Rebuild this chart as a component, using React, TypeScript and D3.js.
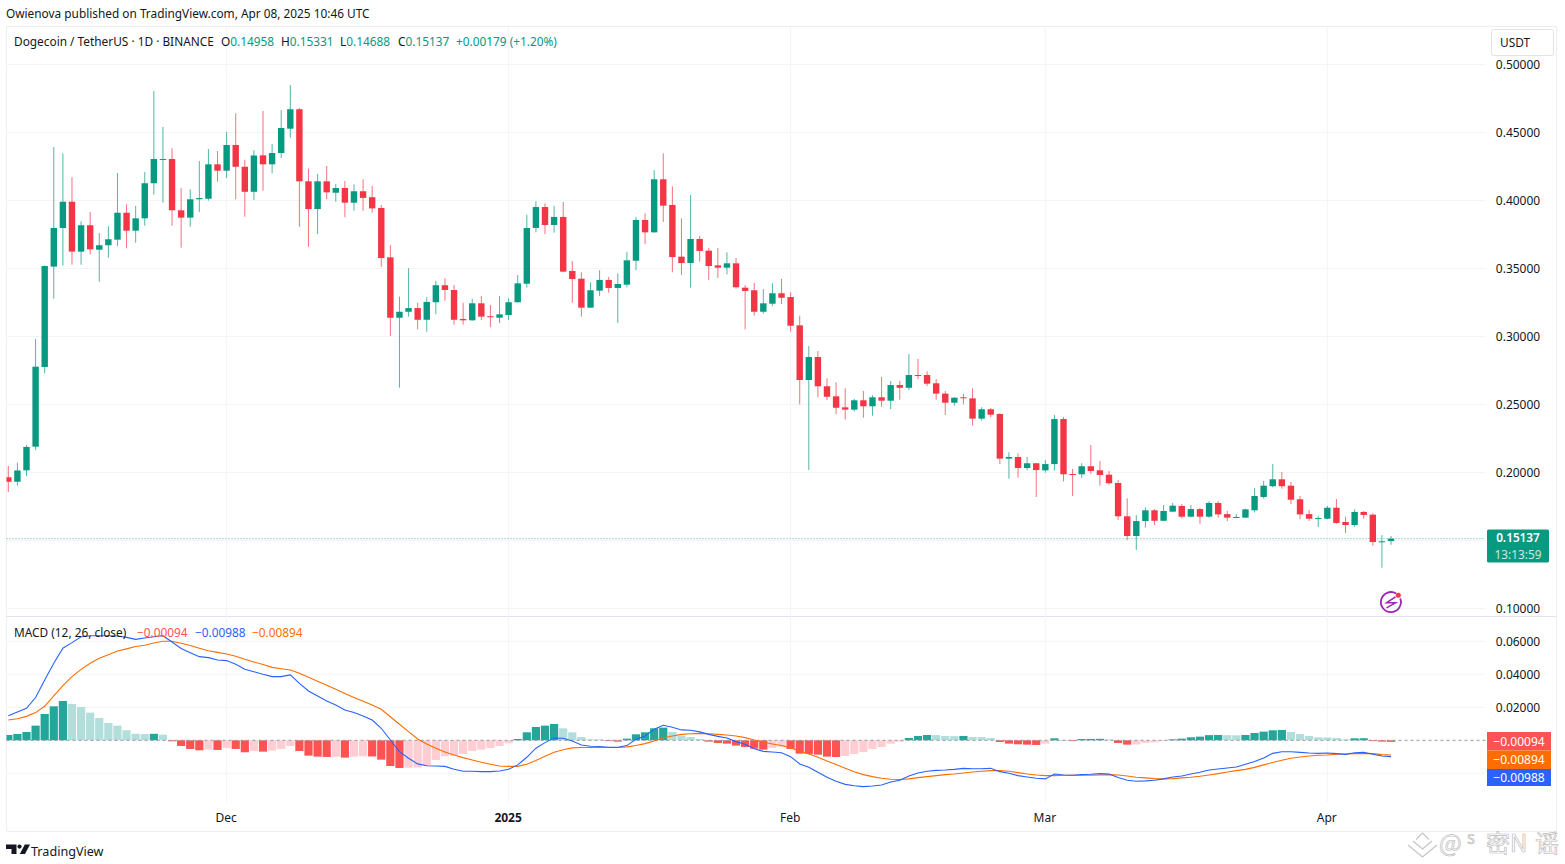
import * as d3 from "d3";

const width = 1565;
const height = 864;

// daily candles, 7 Nov 2024 .. 8 Apr 2025
const startDate = new Date(Date.UTC(2024, 10, 7));

const opens = [
  .1965,.1932,.2016,.2190,.2776,.3514,.3798,.3991,.3624,.3818,
  .3638,.3671,.3712,.3910,.3778,.3869,.4127,.4300,.4305,.3928,
  .3874,.4009,.4013,.4266,.4219,.4408,.4248,.4064,.4332,.4266,
  .4349,.4528,.4671,.4141,.3937,.4141,.4057,.4092,.3984,.4068,
  .4024,.3945,.3582,.3138,.3182,.3209,.3123,.3252,.3377,.3342,
  .3129,.3119,.3244,.3149,.3138,.3158,.3252,.3388,.3798,.3952,
  .3820,.3879,.3482,.3425,.3212,.3337,.3416,.3357,.3381,.3557,
  .3857,.3766,.4156,.3967,.3587,.3540,.3717,.3631,.3523,.3506,
  .3538,.3359,.3340,.3182,.3241,.3318,.3290,.3082,.2680,.2849,
  .2634,.2560,.2479,.2462,.2531,.2487,.2553,.2528,.2643,.2623,
  .2717,.2717,.2656,.2580,.2513,.2553,.2545,.2396,.2465,.2430,
  .2102,.2114,.2033,.2068,.2016,.2062,.2393,.1989,.1987,.2046,
  .2016,.1984,.1923,.1678,.1533,.1643,.1722,.1645,.1712,.1754,
  .1675,.1731,.1675,.1776,.1694,.1668,.1668,.1722,.1820,.1899,
  .1950,.1903,.1803,.1694,.1660,.1660,.1741,.1636,.1614,.1710,
  .1690,.1489,.14958,
];
const highs = [
  .2048,.2072,.2202,.2982,.3522,.4393,.4347,.4171,.3847,.3915,
  .3761,.3812,.4202,.3972,.3960,.4209,.4805,.4541,.4384,.4092,
  .4082,.4290,.4379,.4364,.4503,.4641,.4300,.4371,.4658,.4416,
  .4665,.4849,.4680,.4234,.4195,.4254,.4121,.4143,.4119,.4156,
  .4107,.3967,.3673,.3293,.3502,.3248,.3289,.3408,.3428,.3379,
  .3248,.3278,.3298,.3232,.3298,.3281,.3452,.3895,.3994,.3979,
  .3960,.3989,.3555,.3472,.3399,.3487,.3438,.3464,.3621,.3879,
  .3906,.4224,.4347,.4104,.3869,.4041,.3739,.3651,.3651,.3619,
  .3577,.3377,.3393,.3349,.3391,.3423,.3327,.3153,.2930,.2893,
  .2693,.2663,.2619,.2541,.2601,.2568,.2702,.2673,.2673,.2871,
  .2835,.2744,.2687,.2599,.2553,.2577,.2619,.2480,.2474,.2437,
  .2149,.2141,.2114,.2070,.2092,.2423,.2408,.2026,.2068,.2202,
  .2085,.2011,.1945,.1810,.1687,.1744,.1731,.1761,.1776,.1768,
  .1761,.1739,.1790,.1790,.1717,.1695,.1734,.1886,.1938,.2062,
  .2004,.1930,.1827,.1724,.1680,.1754,.1805,.1675,.1729,.1717,
  .1700,.1540,.15331,
];
const lows = [
  .1857,.1903,.1976,.2165,.2729,.3278,.3521,.3528,.3528,.3604,
  .3403,.3579,.3665,.3649,.3690,.3815,.4043,.3984,.3815,.3653,
  .3807,.3915,.3999,.4138,.4165,.4009,.3881,.4004,.4072,.4200,
  .4312,.4462,.3807,.3660,.3753,.4011,.3991,.3877,.3925,.3925,
  .3910,.3513,.3004,.2624,.3146,.3053,.3035,.3165,.3263,.3087,
  .3087,.3116,.3121,.3068,.3099,.3121,.3250,.3359,.3766,.3753,
  .3763,.3472,.3248,.3146,.3212,.3298,.3322,.3099,.3362,.3487,
  .3680,.3763,.3842,.3472,.3452,.3359,.3550,.3416,.3430,.3457,
  .3352,.3053,.3153,.3168,.3224,.3239,.3035,.2501,.2018,.2553,
  .2533,.2430,.2389,.2447,.2403,.2418,.2484,.2467,.2535,.2607,
  .2685,.2636,.2535,.2423,.2491,.2501,.2344,.2381,.2406,.2062,
  .1955,.1962,.2016,.1820,.1998,.2016,.1935,.1827,.1960,.1991,
  .1903,.1911,.1651,.1503,.1430,.1594,.1614,.1645,.1712,.1663,
  .1670,.1623,.1668,.1668,.1643,.1665,.1668,.1707,.1808,.1891,
  .1881,.1769,.1656,.1643,.1599,.1656,.1623,.1555,.1601,.1660,
  .1462,.1300,.14688,
];
const closes = [
  .1932,.2015,.2188,.2778,.3518,.3798,.3991,.3624,.3818,.3641,
  .3671,.3715,.3910,.3778,.3869,.4127,.4305,.4305,.3928,.3874,
  .4009,.4018,.4266,.4219,.4408,.4248,.4064,.4331,.4266,.4349,
  .4533,.4671,.4141,.3937,.4141,.4060,.4092,.3984,.4068,.4019,
  .3942,.3577,.3138,.3182,.3209,.3123,.3254,.3377,.3342,.3123,
  .3119,.3244,.3146,.3144,.3163,.3252,.3391,.3798,.3952,.3820,
  .3879,.3477,.3423,.3212,.3340,.3416,.3357,.3386,.3560,.3857,
  .3766,.4156,.3962,.3584,.3540,.3717,.3629,.3518,.3506,.3538,
  .3362,.3335,.3182,.3244,.3318,.3285,.3079,.2680,.2849,.2634,
  .2557,.2476,.2462,.2531,.2487,.2553,.2528,.2643,.2623,.2717,
  .2712,.2653,.2580,.2513,.2550,.2548,.2396,.2465,.2425,.2102,
  .2114,.2033,.2068,.2018,.2062,.2393,.1987,.1984,.2046,.2011,
  .1982,.1921,.1678,.1533,.1643,.1722,.1645,.1717,.1756,.1675,
  .1731,.1675,.1776,.1692,.1668,.1673,.1729,.1827,.1903,.1950,
  .1899,.1800,.1692,.1660,.1665,.1741,.1629,.1614,.1710,.1688,
  .1489,.1494,.15137,
];

const histogram = [
  .00323,.00384,.00505,.00889,.01596,.02061,.02384,.02202,.0202,.01677,
  .01354,.0105,.00889,.00606,.00394,.00374,.00394,.00343,-.00061,-.00343,
  -.00525,-.00606,-.00566,-.00586,-.00465,-.00525,-.00727,-.00646,-.00687,-.00626,
  -.00525,-.00343,-.00646,-.00929,-.0099,-.0101,-.01,-.0105,-.0099,-.0097,
  -.0098,-.01172,-.01556,-.01677,-.01657,-.01646,-.01515,-.01192,-.0097,-.00929,
  -.00828,-.00646,-.00566,-.00465,-.00343,-.00182,.00081,.00485,.00808,.00889,
  .0099,.00727,.00485,.00202,.00061,.00051,-.0004,-.00081,.00101,.00364,
  .00485,.00727,.00768,.00505,.00283,.00202,.00081,-.00081,-.00162,-.00202,
  -.00323,-.00404,-.00505,-.00566,-.00465,-.00384,-.00525,-.00808,-.00828,-.00869,
  -.0099,-.0101,-.00949,-.00828,-.00707,-.00525,-.00404,-.00202,-.00081,.00141,
  .00263,.00323,.00313,.00263,.00253,.00263,.00202,.00192,.00141,-.00101,
  -.00202,-.00242,-.00263,-.00283,-.00202,.00121,.0002,-.0002,.00081,.00085,
  .00089,.00061,-.00162,-.00263,-.00253,-.00162,-.00121,-.0004,.00061,.00101,
  .00182,.00222,.00313,.00323,.00313,.00303,.00323,.00444,.00525,.00606,
  .00626,.00505,.00384,.00263,.00182,.00172,.00141,.00061,.00121,.00125,
  -.0002,-.00081,-.00094,
];
const macdLine = [
  .0149,.0172,.0194,.0259,.0366,.0467,.0558,.0592,.0628,.0634,
  .0634,.0634,.0632,.0624,.0612,.0620,.0628,.0634,.0596,.0556,
  .0531,.0507,.0501,.0487,.0483,.0461,.0430,.0416,.0400,.0386,
  .0386,.0396,.0345,.0299,.0269,.0238,.0214,.0184,.0168,.0147,
  .0123,.0073,.0002,-.0069,-.0109,-.0143,-.0154,-.0156,-.0158,-.0176,
  -.0188,-.0188,-.0190,-.0190,-.0186,-.0176,-.0149,-.0103,-.0048,-.0014,
  .0014,.0012,-.0004,-.0028,-.0036,-.0038,-.0042,-.0042,-.0032,.0006,
  .0026,.0067,.0091,.0079,.0063,.0061,.0051,.0036,.0024,.0014,
  -.0008,-.0024,-.0051,-.0067,-.0071,-.0075,-.0099,-.0143,-.0164,-.0194,
  -.0224,-.0248,-.0267,-.0275,-.0281,-.0277,-.0271,-.0253,-.0242,-.0216,
  -.0198,-.0188,-.0182,-.0180,-.0176,-.0170,-.0172,-.0172,-.0170,-.0190,
  -.0200,-.0214,-.0222,-.0230,-.0234,-.0204,-.0210,-.0212,-.0208,-.0206,
  -.0202,-.0204,-.0226,-.0242,-.0248,-.0246,-.0242,-.0234,-.0222,-.0216,
  -.0204,-.0194,-.0180,-.0174,-.0168,-.0162,-.0145,-.0129,-.0107,-.0079,
  -.0069,-.0069,-.0073,-.0077,-.0079,-.0077,-.0081,-.0085,-.0075,-.0073,
  -.0085,-.0095,-.00988,
];
const signalLine = [
  .0123,.0131,.0145,.0168,.0206,.0269,.0331,.0386,.0430,.0467,
  .0497,.0519,.0541,.0554,.0568,.0576,.0590,.0600,.0600,.0588,
  .0574,.0558,.0543,.0533,.0523,.0509,.0491,.0475,.0459,.0442,
  .0434,.0426,.0406,.0382,.0358,.0333,.0309,.0283,.0259,.0236,
  .0214,.0188,.0143,.0097,.0053,.0008,-.0022,-.0048,-.0071,-.0089,
  -.0105,-.0119,-.0133,-.0145,-.0156,-.0158,-.0158,-.0145,-.0123,-.0097,
  -.0073,-.0057,-.0046,-.0044,-.0044,-.0044,-.0044,-.0044,-.0040,-.0032,
  -.0020,-.0004,.0016,.0026,.0036,.0040,.0042,.0040,.0036,.0032,
  .0026,.0016,.0002,-.0012,-.0022,-.0032,-.0046,-.0065,-.0083,-.0103,
  -.0125,-.0147,-.0170,-.0190,-.0208,-.0220,-.0230,-.0236,-.0238,-.0234,
  -.0226,-.0220,-.0214,-.0208,-.0204,-.0198,-.0192,-.0188,-.0184,-.0184,
  -.0188,-.0196,-.0204,-.0210,-.0214,-.0214,-.0212,-.0212,-.0212,-.0212,
  -.0210,-.0208,-.0210,-.0216,-.0224,-.0228,-.0232,-.0234,-.0232,-.0228,
  -.0224,-.0218,-.0210,-.0202,-.0192,-.0184,-.0176,-.0164,-.0149,-.0135,
  -.0121,-.0109,-.0101,-.0095,-.0091,-.0089,-.0085,-.0083,-.0081,-.0079,
  -.0081,-.0087,-.00894,
];

const priceTicks = [0.5, 0.45, 0.4, 0.35, 0.3, 0.25, 0.2, 0.15, 0.1];
const macdTicks = [0.06, 0.04, 0.02, 0, -0.02];
const timeTicks = [
  {label: "Dec", date: new Date(Date.UTC(2024, 11, 1)), bold: false},
  {label: "2025", date: new Date(Date.UTC(2025, 0, 1)), bold: true},
  {label: "Feb", date: new Date(Date.UTC(2025, 1, 1)), bold: false},
  {label: "Mar", date: new Date(Date.UTC(2025, 2, 1)), bold: false},
  {label: "Apr", date: new Date(Date.UTC(2025, 3, 1)), bold: false},
];

const GREEN = "#089981";
const RED = "#F23645";
const FONT = "'Noto Sans', sans-serif";
const TEXT = "#131722";

const plotLeft = 6.5;
const plotRight = 1485;

// 価格とMACDのスケール
const x = d3.scaleUtc()
  .domain([startDate, d3.utcDay.offset(startDate, 152)])
  .range([8.3, 1391]);
const y = d3.scaleLinear().domain([0.1, 0.5]).range([608.5, 64.5]);
const yMacd = d3.scaleLinear().domain([-0.02, 0.06]).range([773.3, 641.3]);

const xAt = (i: number) => x(d3.utcDay.offset(startDate, i));
const fmt = d3.format(".5f");

const macdPath = d3.line<number>().x((_, i) => xAt(i)).y(d => yMacd(d));

const histColor = (v: number, i: number) => {
  const prev = i > 0 ? histogram[i - 1] : 0;
  if (v >= 0) return v >= prev ? "#26A69A" : "#B2DFDB";
  return v <= prev ? "#FF5252" : "#FFCDD2";
};

const legendOhlc = [
  {text: "O", value: "0.14958", left: 221},
  {text: "H", value: "0.15331", left: 281},
  {text: "L", value: "0.14688", left: 340},
  {text: "C", value: "0.15137", left: 398},
];

const App = () => {
  const last = opens.length - 1;
  const lastY = y(closes[last]);
  return (
    <svg width={width} height={height} fontFamily={FONT}
         style={{position: "absolute", left: 0, top: 0, background: "#fff"}}>
      <defs>
        <clipPath id="plot">
          <rect x={plotLeft} y={27} width={plotRight - plotLeft} height={775}/>
        </clipPath>
      </defs>

      {/* 枠 */}
      <g stroke="#eceef1" fill="none">
        <path d="M6.5,26.5H1556.5"/>
        <path d="M6.5,26.5V831.5"/>
        <path d="M1556.5,26.5V831.5"/>
        <path d="M6.5,616.5H1556.5" stroke="#e0e3eb"/>
        <path d="M6.5,831.5H1556.5"/>
      </g>

      {/* グリッド */}
      <g stroke="#f3f4f6">
        {priceTicks.map(t => <line key={t} x1={plotLeft} x2={plotRight} y1={y(t)} y2={y(t)}/>)}
        {macdTicks.filter(t => t !== 0).map(t => <line key={t} x1={plotLeft} x2={plotRight} y1={yMacd(t)} y2={yMacd(t)}/>)}
        {timeTicks.map(t => <line key={t.label} x1={x(t.date)} x2={x(t.date)} y1={27} y2={802}/>)}
      </g>

      {/* 現在値ライン */}
      <line x1={plotLeft} x2={plotRight} y1={lastY} y2={lastY} stroke={GREEN} strokeOpacity={0.7} strokeDasharray="1 2"/>

      <g clipPath="url(#plot)">
        {/* ローソク足 */}
        {opens.map((o, i) => {
          const c = closes[i];
          const color = c >= o ? GREEN : RED;
          const top = y(Math.max(o, c));
          const bottom = y(Math.min(o, c));
          return (
            <g key={i} fill={color}>
              <rect x={xAt(i) - 0.5} width={1} y={y(highs[i])} height={y(lows[i]) - y(highs[i])} fillOpacity={0.7}/>
              <rect x={xAt(i) - 3.2} width={6.4} y={top} height={Math.max(bottom - top, 1)}/>
            </g>
          );
        })}

        {/* MACD ヒストグラム */}
        {histogram.map((v, i) => (
          <rect key={i} x={xAt(i) - 4.1} width={8.2}
                y={Math.min(yMacd(v), yMacd(0))} height={Math.max(Math.abs(yMacd(v) - yMacd(0)), 0.8)}
                fill={histColor(v, i)}/>
        ))}
      </g>
      <line x1={plotLeft} x2={1487} y1={yMacd(0)} y2={yMacd(0)} stroke="#9598a1" strokeDasharray="3 3"/>
      <path d={macdPath(signalLine)!} fill="none" stroke="#FF6D00" strokeWidth={1.1}/>
      <path d={macdPath(macdLine)!} fill="none" stroke="#2962FF" strokeWidth={1.1}/>

      {/* 右軸 */}
      <g fontSize={12} fill={TEXT} textAnchor="middle">
        {priceTicks.filter(t => t !== 0.15).map(t => <text key={t} x={1518} y={y(t) + 4}>{fmt(t)}</text>)}
        {macdTicks.filter(t => t > 0).map(t => <text key={t} x={1518} y={yMacd(t) + 4.5}>{fmt(t)}</text>)}
      </g>

      {/* 時間軸 */}
      <g fontSize={12} fill={TEXT} textAnchor="middle">
        {timeTicks.map(t => (
          <text key={t.label} x={x(t.date) - 0.5} y={821.5} fontWeight={t.bold ? 700 : 400}>{t.label}</text>
        ))}
      </g>

      {/* 現在値ラベル */}
      <rect x={1487} y={529.5} width={62} height={33} rx={1.5} fill={GREEN}/>
      <text x={1518} y={541.5} fontSize={11.8} fill="#fff" textAnchor="middle" fontWeight={600}>{fmt(closes[last])}</text>
      <text x={1518} y={558.5} fontSize={11.8} fill="#fff" fillOpacity={0.8} textAnchor="middle">13:13:59</text>

      <rect x={1487} y={732} width={64} height={18.5} fill="#FF5252"/>
      <rect x={1487} y={750.5} width={64} height={18.5} fill="#FF6D00"/>
      <rect x={1487} y={769} width={64} height={17} fill="#2962FF"/>
      <g fontSize={12} fill="#fff" textAnchor="middle">
        <text x={1519} y={745.5}>−0.00094</text>
        <text x={1519} y={764}>−0.00894</text>
        <text x={1519} y={782}>−0.00988</text>
      </g>

      {/* ヘッダー */}
      <text x={6} y={18} fontSize={11.85} fill={TEXT}>Owienova published on TradingView.com, Apr 08, 2025 10:46 UTC</text>
      <text x={14} y={46} fontSize={11.85} fill={TEXT}>Dogecoin / TetherUS · 1D · BINANCE</text>
      <g fontSize={11.85}>
        {legendOhlc.map(d => (
          <text key={d.text} x={d.left} y={46}>
            <tspan fill={TEXT}>{d.text}</tspan>
            <tspan fill={GREEN}>{d.value}</tspan>
          </text>
        ))}
        <text x={456} y={46} fill={GREEN}>+0.00179 (+1.20%)</text>
      </g>

      {/* USDT */}
      <rect x={1491.5} y={29.5} width={62} height={26} rx={2} fill="#fff" stroke="#e0e3eb"/>
      <text x={1500} y={47} fontSize={11.85} fill={TEXT}>USDT</text>

      {/* MACD凡例 */}
      <text x={14} y={637} fontSize={11.85} fill={TEXT}>MACD (12, 26, close)</text>
      <g fontSize={11.85}>
        <text x={137} y={637} fill="#FF5252">−0.00094</text>
        <text x={195} y={637} fill="#2962FF">−0.00988</text>
        <text x={252} y={637} fill="#FF6D00">−0.00894</text>
      </g>

      {/* 稲妻アイコン */}
      <g transform="translate(1391,602.3)" fill="none" stroke="#9C27B0">
        <path d="M5.2,-8.7A10,10 0 1 0 9.2,-3.9" strokeWidth={1.8}/>
        <path d="M4.5,-5.5L-4.5,0.5H4.5L-4.5,5.5" strokeWidth={1.5}/>
      </g>
      <circle cx={1398.3} cy={595.3} r={2.5} fill="#F23645"/>

      {/* TradingView ロゴ */}
      <g fill="#131722">
        <path d="M6,844.5H16.5V854H11.5V849H6Z"/>
        <circle cx={19.5} cy={846.6} r={2.1}/>
        <path d="M24.8,844.5H30L25,854H19.8Z"/>
      </g>
      <text x={31} y={855.5} fontSize={12.6} fill={TEXT}>TradingView</text>

      {/* 透かし */}
      <g fill="none" stroke="#c4c4c4" strokeWidth={1.2}>
        <path d="M1408,845L1422.5,857L1437,845"/>
        <path d="M1413,841L1422.5,849L1432,841"/>
        <path d="M1416,839.5L1422.5,833L1429,839.5"/>
      </g>
      <g fill="#fff" stroke="#bdbdbd" strokeWidth={0.7} fontFamily="'Noto Sans CJK SC', sans-serif">
        <text x={1439} y={852} fontSize={24}>@</text>
        <text x={1467} y={844} fontSize={13}>S</text>
        <text x={1486} y={852} fontSize={24}>密N</text>
        <text x={1535} y={852} fontSize={24}>谣</text>
      </g>
    </svg>
  );
};

export default App;
